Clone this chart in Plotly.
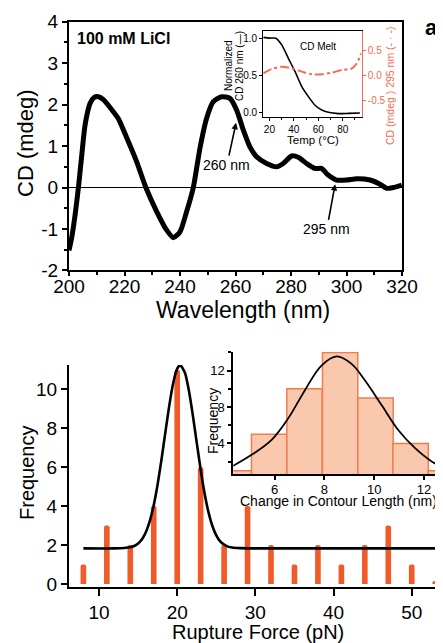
import plotly.graph_objects as go

FONT = "Liberation Sans, Arial, Helvetica, sans-serif"
# The page body has an 8px margin, so the figure is 8px smaller and all
# reference pixel positions are shifted by 8px.
OFF = 8
W, H = 443 - OFF, 643 - OFF


def fx(p):
    return (p - OFF) / W


def fy(p):
    return 1 - (p - OFF) / H


RED = "#f26c4f"
BAR = "#f15a29"
HIST_FILL = "#f9c8ad"
HIST_EDGE = "#f47b50"

# ---------------- Panel a: CD spectrum ----------------
wavelength = [200, 201, 202.2, 203.4, 204.6, 205.8, 207.6, 209, 210.6, 212.4, 214.8, 217.8,
              220.8, 224.4, 227.7, 231.6, 235.2, 237.6, 240, 242.4, 244.8, 247.2, 249.6,
              252, 255, 258, 260.4, 262.8, 265.2, 267.6, 271.2, 274.8, 277.2, 280.2, 282.6,
              285.6, 288.6, 291, 293.4, 296.4, 300, 303.7, 308.5, 312.1, 314.5, 316.9, 319.9]
cd_mdeg = [-1.52, -1.2, -0.66, 0.0, 0.78, 1.51, 2.03, 2.17, 2.19, 2.12, 1.93, 1.66,
           1.2, 0.62, 0.0, -0.58, -1.03, -1.21, -1.07, -0.58, 0.0, 0.95, 1.67,
           2.07, 2.19, 2.15, 1.87, 1.39, 0.98, 0.74, 0.58, 0.50, 0.58, 0.76, 0.73,
           0.58, 0.46, 0.46, 0.30, 0.18, 0.18, 0.21, 0.18, 0.08, -0.02, 0.0, 0.06]
cd_ticks = [-2, -1, 0, 1, 2, 3, 4]
cd_ticktext = ["-2", "-1", "0", "1", "2", "3", "4"]

# inset: CD melt
melt_temp = [15, 20, 25.2, 30.1, 35.5, 41, 46.5, 51.9, 57.3, 62.8, 68.2, 76.4, 84.5, 94]
melt_cd260 = [1.01, 1.0, 1.0, 0.91, 0.73, 0.55, 0.35, 0.215, 0.10, 0.036, 0.005, -0.013, -0.01, -0.004]
melt_temp295 = [15, 22, 30.1, 38.3, 46.5, 54.6, 62.8, 71, 79.2, 87.3, 91.4, 94.9]
melt_cd295 = [0.034, 0.12, 0.166, 0.13, 0.067, 0.013, 0.013, 0.047, 0.10, 0.13, 0.23, 0.43]
cd295_ticks = [-0.5, 0.0, 0.5]
cd295_ticktext = ["-0.5", "0.0", "0.5"]

# ---------------- Panel b: rupture force ----------------
force_pn = [8, 11, 14, 17, 20, 23, 26, 29, 32, 35, 38, 41, 44, 47, 50, 53]
force_freq = [1, 3, 2, 4, 11, 6, 2, 4, 2, 1, 2, 1, 2, 3, 1, 0.15]
fit_force = [8, 12, 14, 14.5, 15, 15.5, 16, 16.5, 17, 17.5, 18, 18.5, 19, 19.5, 20, 20.4,
             21, 21.5, 22, 22.5, 23, 23.5, 24, 24.5, 25, 25.5, 26, 26.5, 27, 28, 30, 53]
fit_freq = [1.83, 1.83, 1.89, 1.95, 2.08, 2.30, 2.67, 3.24, 4.05, 5.12, 6.42, 7.83, 9.20,
            10.34, 11.06, 11.25, 10.84, 9.93, 8.67, 7.26, 5.88, 4.66, 3.69, 2.98, 2.50,
            2.19, 2.02, 1.92, 1.87, 1.84, 1.83, 1.83]

# inset: contour length histogram
contour_nm = [4.36, 5.78, 7.2, 8.63, 10.05, 11.46, 12.88]
contour_freq = [1, 5, 10, 14, 9, 4, 1]
contour_bin_width = 1.42
contour_fit_x = [4.32, 5.06, 5.87, 6.54, 7.21, 7.88, 8.49, 9.09, 9.63, 10.3, 10.97, 11.65, 12.32, 12.72]
contour_fit_y = [1.52, 2.72, 4.36, 6.73, 9.83, 12.56, 13.57, 12.74, 10.92, 8.19, 5.45, 3.45, 2.0, 1.45]

fig = go.Figure()

# Panel a main curve
fig.add_trace(go.Scatter(x=wavelength, y=cd_mdeg, mode="lines", xaxis="x", yaxis="y",
                         line=dict(color="black", width=5, shape="spline", smoothing=0.6),
                         showlegend=False))
# Inset a
fig.add_trace(go.Scatter(x=melt_temp, y=melt_cd260, mode="lines", xaxis="x2", yaxis="y2",
                         line=dict(color="black", width=1.6, shape="spline", smoothing=0.6),
                         showlegend=False))
fig.add_trace(go.Scatter(x=melt_temp295, y=melt_cd295, mode="lines", xaxis="x2", yaxis="y3",
                         line=dict(color=RED, width=2, dash="dashdot", shape="spline", smoothing=0.8),
                         showlegend=False))
# Panel b bars
fig.add_trace(go.Bar(x=force_pn, y=force_freq, width=0.72, xaxis="x3", yaxis="y4",
                     marker=dict(color=BAR, line=dict(width=0), cornerradius=3),
                     showlegend=False))
fig.add_trace(go.Scatter(x=fit_force, y=fit_freq, mode="lines", xaxis="x3", yaxis="y4",
                         line=dict(color="black", width=2.6, shape="spline", smoothing=0.5),
                         showlegend=False))
# Inset b histogram
fig.add_trace(go.Bar(x=contour_nm, y=contour_freq, width=contour_bin_width, xaxis="x4", yaxis="y5",
                     marker=dict(color=HIST_FILL, line=dict(color=HIST_EDGE, width=1.5)),
                     showlegend=False))
fig.add_trace(go.Scatter(x=contour_fit_x, y=contour_fit_y, mode="lines", xaxis="x4", yaxis="y5",
                         line=dict(color="black", width=1.8, shape="spline", smoothing=1),
                         showlegend=False))

common = dict(showgrid=False, zeroline=False, showline=True, linecolor="black",
              ticks="outside", tickcolor="black", color="black", automargin=False)

fig.update_layout(
    template="none",
    width=W, height=H, margin=dict(l=0, r=0, t=0, b=0, pad=0),
    paper_bgcolor="white", plot_bgcolor="white",
    font=dict(family=FONT, color="black"),
    showlegend=False,
    xaxis=dict(common, domain=[fx(69), fx(402)], anchor="y", range=[200, 320],
               dtick=20, tick0=200, ticklen=4, tickwidth=2, linewidth=2, mirror=True,
               ticklabelstandoff=-6,
               minor=dict(dtick=10, tick0=200, ticks="outside", ticklen=3, tickwidth=2, tickcolor="black"),
               tickfont=dict(size=19)),
    yaxis=dict(common, domain=[fy(270.4), fy(21.7)], anchor="x", range=[-2, 4],
               tickvals=cd_ticks, ticktext=cd_ticktext, ticklen=5, tickwidth=2, linewidth=2, mirror=True,
               zeroline=True, zerolinecolor="black", zerolinewidth=1,
               minor=dict(dtick=0.5, ticks="outside", ticklen=3, tickwidth=2, tickcolor="black"),
               tickfont=dict(size=19)),
    xaxis2=dict(common, domain=[fx(263.3), fx(361.7)], anchor="y2", range=[15, 95.5],
                dtick=20, tick0=20, ticklen=3, tickwidth=1, linewidth=1.2, mirror=True,
                minor=dict(dtick=10, tick0=20, ticks="outside", ticklen=2, tickcolor="black"),
                tickfont=dict(size=10)),
    yaxis2=dict(common, domain=[fy(116.7), fy(30.7)], anchor="x2", range=[-0.054, 1.10],
                dtick=0.5, tickformat=".1f", ticklen=3, tickwidth=1, linewidth=1.2,
                tickfont=dict(size=10)),
    yaxis3=dict(showgrid=False, zeroline=False, showline=True, linecolor=RED, linewidth=1.2,
                overlaying="y2", side="right", anchor="x2", range=[-0.834, 0.886],
                tickvals=cd295_ticks, ticktext=cd295_ticktext, ticks="outside", ticklen=3,
                tickcolor=RED, tickfont=dict(size=10, color=RED), automargin=False),
    xaxis3=dict(common, domain=[fx(69), 1], anchor="y4", range=[6.16, 54],
                tickvals=[10, 20, 30, 40, 50], ticklen=7, tickwidth=2, linewidth=2,
                tickfont=dict(size=19)),
    yaxis4=dict(common, domain=[fy(586.7), fy(365)], anchor="x3", range=[-0.14, 11.25],
                dtick=2, ticklen=6, tickwidth=2, linewidth=2, tickfont=dict(size=19)),
    xaxis4=dict(common, domain=[fx(233.3), 1], anchor="y5", range=[4.34, 12.76],
                dtick=2, tick0=0, ticklen=4, tickwidth=1.5, linewidth=1.8,
                ticklabelstandoff=-2,
                tickfont=dict(size=13)),
    yaxis5=dict(common, domain=[fy(474.3), fy(352)], anchor="x4", range=[0.61, 14.05],
                tickvals=[4, 8, 12], ticklen=4, tickwidth=1.5, linewidth=1.8,
                minor=dict(dtick=2, ticks="outside", ticklen=3, tickcolor="black"),
                tickfont=dict(size=13)),
)


def label(text, x, y, size, rot=0, color="black", bold=False, xanchor="center"):
    t = f"<b>{text}</b>" if bold else text
    fig.add_annotation(text=t, x=fx(x), y=fy(y), xref="paper", yref="paper",
                       showarrow=False, textangle=rot, xanchor=xanchor, yanchor="middle",
                       font=dict(family=FONT, size=size, color=color))


# Panel a texts
label("100 mM LiCl", 123, 38, 16, bold=True)
label("a", 431, 27, 22, bold=True)
label("Wavelength (nm)", 243, 310, 23)
label("CD (mdeg)", 25, 143, 22, rot=-90)
label("CD Melt", 318, 46, 10)
label("Temp (°C)", 313, 140, 11.5)
label("Normalized", 229, 66, 10, rot=-90)
label("CD 260 nm (—)", 240, 66, 10, rot=-90)
label("CD (mdeg ) 295 nm (- · -)", 390, 86, 10.5, rot=-90, color=RED)

# arrows
fig.add_annotation(x=260.2, y=1.56, ax=256.9, ay=0.54, xref="x", yref="y", axref="x", ayref="y",
                   text="260 nm", showarrow=True, arrowhead=2, arrowsize=0.8, arrowwidth=1.6,
                   arrowcolor="black", font=dict(family=FONT, size=14, color="black"))
fig.add_annotation(x=295.9, y=0.08, ax=292.9, ay=-1.01, xref="x", yref="y", axref="x", ayref="y",
                   text="295 nm", showarrow=True, arrowhead=2, arrowsize=0.8, arrowwidth=1.6,
                   arrowcolor="black", font=dict(family=FONT, size=14, color="black"))

# Panel b texts
label("Rupture Force (pN)", 258, 632, 20)
label("Frequency", 27, 473, 20, rot=-90)
label("b", 432, 366, 22, bold=True, xanchor="left")
label("Frequency", 213, 421, 14, rot=-90)
label("Change in Contour Length (nm)", 338.5, 501, 14)

fig.write_html("out.html")
